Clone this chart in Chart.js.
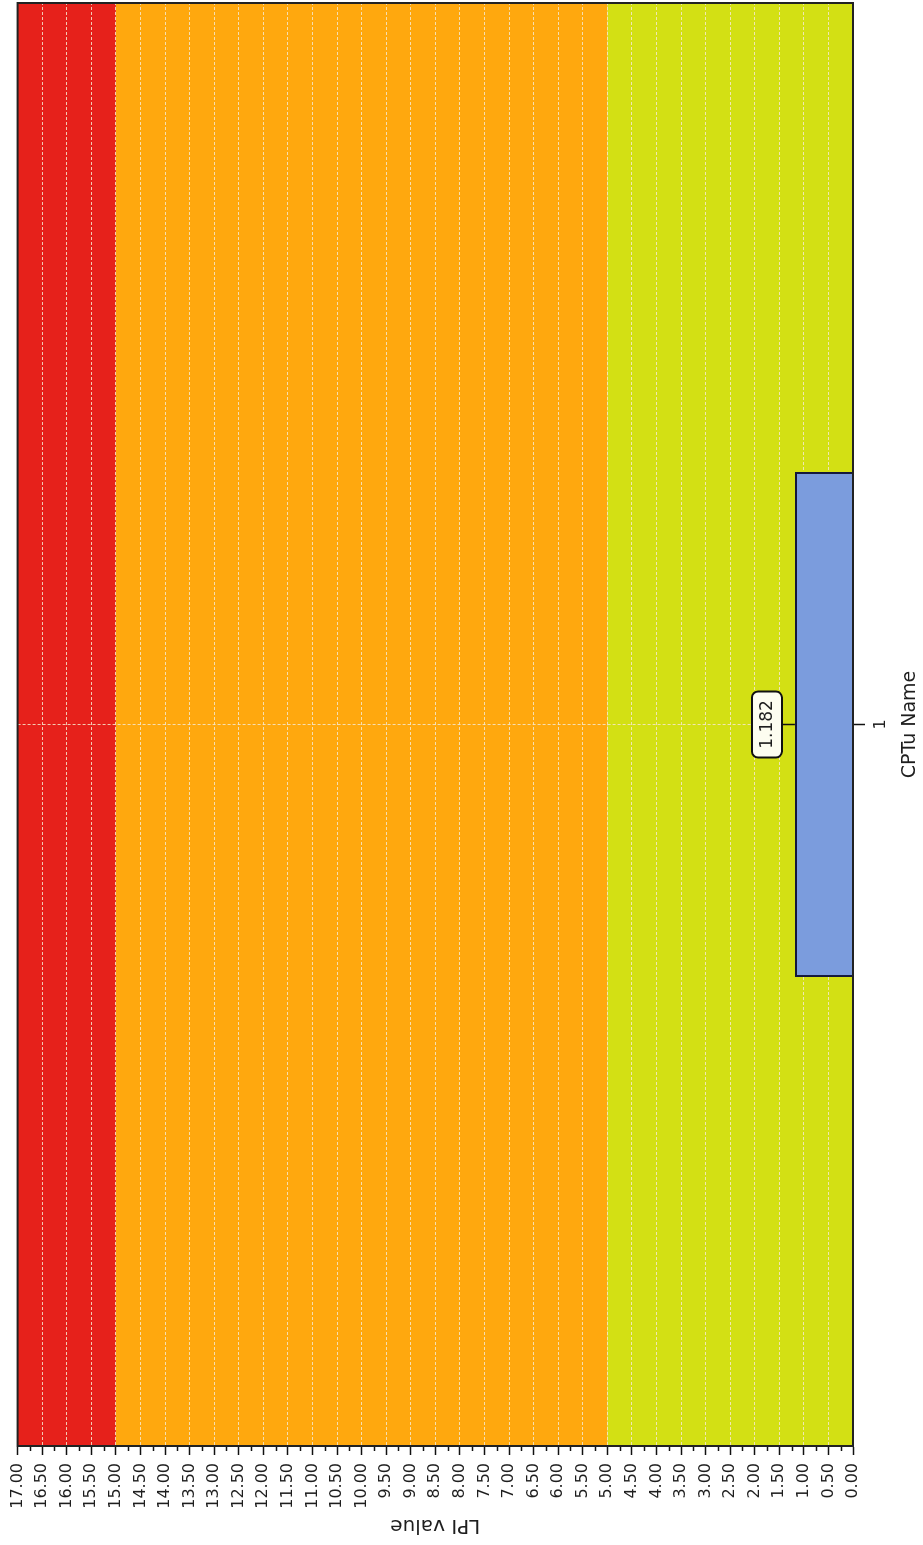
<!DOCTYPE html>
<html>
<head>
<meta charset="utf-8">
<script src="https://cdn.jsdelivr.net/npm/chart.js@4/dist/chart.umd.min.js"></script>
<style>
  html, body { margin: 0; padding: 0; background: #ffffff; overflow: hidden; }
  #wrap {
    position: absolute; left: 0; top: 0;
    width: 1545px; height: 923px;
    transform-origin: 0 0;
    transform: translate(0px, 1545px) rotate(-90deg);
  }
  canvas { display: block; }
</style>
</head>
<body>
<div id="wrap"><canvas id="c" width="1545" height="923"></canvas></div>
<script>
// ---- data ----
const categories = ['1'];
const lpiValues = [1.182];
const valueLabels = ['1.182'];
const axisMin = 0;
const axisMax = 17;
const majorStep = 0.5;
const zoneLower = [0, 5, 15];
const zoneUpper = [5, 15, 17];

// ---- styles ----
const zoneColors = ['#d3e014', '#ffa80e', '#e6211b'];
const gridColor = 'rgba(245,232,205,0.85)';
const textColor = '#1e1e1e';
const FONT = '"DejaVu Sans", Verdana, sans-serif';

const zonesPlugin = {
  id: 'zones',
  beforeDraw(chart) {
    const { ctx, chartArea, scales } = chart;
    const y = scales.y;
    ctx.save();
    for (let i = 0; i < zoneLower.length; i++) {
      const top = y.getPixelForValue(zoneUpper[i]);
      const bottom = y.getPixelForValue(zoneLower[i]);
      ctx.fillStyle = zoneColors[i];
      ctx.fillRect(chartArea.left, top, chartArea.right - chartArea.left, bottom - top);
    }
    ctx.restore();
  }
};

const extrasPlugin = {
  id: 'extras',
  afterDraw(chart) {
    const { ctx, chartArea, scales } = chart;
    const y = scales.y;
    ctx.save();
    // minor ticks
    ctx.strokeStyle = '#111';
    ctx.lineWidth = 1.5;
    for (let v = axisMin + majorStep / 2; v < axisMax; v += majorStep) {
      const py = Math.round(y.getPixelForValue(v)) + 0.5;
      ctx.beginPath();
      ctx.moveTo(chartArea.left, py);
      ctx.lineTo(chartArea.left - 5, py);
      ctx.stroke();
    }
    // frame
    ctx.strokeStyle = '#222';
    ctx.lineWidth = 2;
    ctx.strokeRect(chartArea.left, chartArea.top, chartArea.right - chartArea.left, chartArea.bottom - chartArea.top);
    // data labels
    const meta = chart.getDatasetMeta(0);
    meta.data.forEach((bar, i) => {
      const bx = bar.x, by = bar.y;
      const gap = 13, bw = 66, bh = 30, r = 6;
      ctx.strokeStyle = '#111';
      ctx.lineWidth = 1.5;
      ctx.beginPath();
      ctx.moveTo(bx, by);
      ctx.lineTo(bx, by - gap);
      ctx.stroke();
      const x0 = bx - bw / 2, y0 = by - gap - bh;
      ctx.beginPath();
      ctx.roundRect(x0, y0, bw, bh, r);
      ctx.fillStyle = '#fdfdf0';
      ctx.fill();
      ctx.lineWidth = 2;
      ctx.stroke();
      ctx.fillStyle = textColor;
      ctx.font = '17px ' + FONT;
      ctx.textAlign = 'center';
      ctx.textBaseline = 'middle';
      ctx.fillText(valueLabels[i], bx, y0 + bh / 2 + 1);
    });
    ctx.restore();
  }
};

new Chart(document.getElementById('c'), {
  type: 'bar',
  data: {
    labels: categories,
    datasets: [{
      label: 'LPI',
      data: lpiValues,
      backgroundColor: '#7b9cdd',
      borderColor: '#14183a',
      borderWidth: 2,
      borderSkipped: 'bottom',
      categoryPercentage: 1.0,
      barPercentage: 0.35
    }]
  },
  options: {
    responsive: false,
    maintainAspectRatio: false,
    animation: false,
    layout: { padding: { left: 0, top: 15, right: 3, bottom: 0 } },
    plugins: {
      legend: { display: false },
      tooltip: { enabled: false }
    },
    scales: {
      x: {
        offset: true,
        grid: {
          offset: false,
          color: gridColor,
          lineWidth: 1,
          drawTicks: true,
          tickLength: 12,
          tickColor: '#111',
          tickWidth: 1.5
        },
        border: { display: true, color: '#222', width: 2, dash: [3, 2] },
        ticks: {
          color: textColor,
          font: { family: FONT, size: 16 },
          padding: 6,
          maxRotation: 0
        },
        title: {
          display: true,
          text: 'CPTu Name',
          color: textColor,
          font: { family: FONT, size: 19 },
          padding: { top: 4, bottom: 2 }
        },
        afterFit(scale) { scale.height = 70; }
      },
      y: {
        min: axisMin,
        max: axisMax,
        grid: {
          color: gridColor,
          lineWidth: 1,
          drawTicks: true,
          tickLength: 9,
          tickColor: '#111',
          tickWidth: 1.5
        },
        border: { display: true, color: '#222', width: 2, dash: [3, 2] },
        ticks: {
          stepSize: majorStep,
          color: textColor,
          font: { family: FONT, size: 16 },
          padding: 8,
          autoSkip: false,
          callback: (v) => Number(v).toFixed(2)
        },
        title: {
          display: true,
          text: 'LPI value',
          color: textColor,
          font: { family: FONT, size: 20 },
          padding: { top: 8, bottom: 0 }
        },
        afterFit(scale) { scale.width = 99; }
      }
    }
  },
  plugins: [zonesPlugin, extrasPlugin]
});
</script>
</body>
</html>
